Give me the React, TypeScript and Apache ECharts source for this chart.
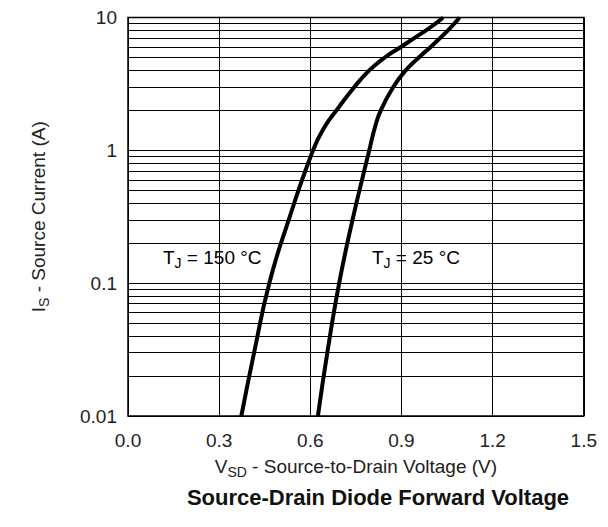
import React, { useEffect, useRef } from "react";
import * as echarts from "echarts";

const xTicks = [0, 0.3, 0.6, 0.9, 1.2, 1.5];
const yTickLabels = ["0.01", "0.1", "1", "10"];

// TJ = 150 °C curve: [VSD (V), IS (A)]
const curve150: [number, number][] = [
  [0.373, 0.01],
  [0.415, 0.03],
  [0.465, 0.1],
  [0.529, 0.3],
  [0.609, 1],
  [0.647, 1.5],
  [0.686, 2],
  [0.745, 3],
  [0.794, 4],
  [0.845, 5],
  [0.898, 6],
  [0.942, 7],
  [0.981, 8],
  [1.012, 9],
  [1.037, 10],
];

// TJ = 25 °C curve
const curve25: [number, number][] = [
  [0.625, 0.01],
  [0.656, 0.03],
  [0.695, 0.1],
  [0.739, 0.3],
  [0.794, 1],
  [0.813, 1.5],
  [0.832, 2],
  [0.873, 3],
  [0.914, 4],
  [0.957, 5],
  [0.996, 6],
  [1.027, 7],
  [1.053, 8],
  [1.074, 9],
  [1.091, 10],
];

// minor horizontal grid lines (log scale 2..9 per decade)
const minorGrid = [
  0.02, 0.03, 0.04, 0.05, 0.06, 0.07, 0.08, 0.09,
  0.2, 0.3, 0.4, 0.5, 0.6, 0.7, 0.8, 0.9,
  2, 3, 4, 5, 6, 7, 8, 9,
];

const FONT = "'Liberation Sans', Arial, Helvetica, sans-serif";
const TXT = "#222";

export default function App() {
  const ref = useRef<HTMLDivElement>(null);
  useEffect(() => {
    if (!ref.current) return;
    const chart = echarts.init(ref.current, undefined, { renderer: "svg" });
    const subRich = {
      n: { fontSize: 19, fontFamily: FONT, color: TXT },
      s: { fontSize: 14, fontFamily: FONT, color: TXT, padding: [11, 0, 0, 0] },
    };
    chart.setOption({
      animation: false,
      backgroundColor: "#fff",
      grid: {
        left: 120,
        right: 9,
        top: 4,
        bottom: 103,
        show: true,
        borderColor: "#000",
        borderWidth: 1.5,
        containLabel: false,
      },
      title: {
        text: "Source-Drain Diode Forward Voltage",
        left: 365,
        top: 473,
        textAlign: "center",
        textStyle: { fontFamily: FONT, fontSize: 22, fontWeight: "bold", color: "#111" },
      },
      xAxis: {
        type: "value",
        min: 0,
        max: 1.5,
        interval: 0.3,
        axisLine: { show: false },
        axisTick: { show: false },
        axisLabel: {
          margin: 15,
          fontFamily: FONT,
          fontSize: 19,
          color: TXT,
          formatter: (v: number) => {
            const t = xTicks.find((x) => Math.abs(x - v) < 1e-6);
            return t === undefined ? "" : t.toFixed(1);
          },
        },
        splitLine: { show: true, lineStyle: { color: "#000", width: 1 } },
        name: "{n|V}{s|SD}{n| - Source-to-Drain Voltage (V)}",
        nameLocation: "middle",
        nameGap: 38,
        nameTextStyle: { rich: subRich },
      },
      yAxis: {
        type: "log",
        logBase: 10,
        min: 0.01,
        max: 10,
        axisLine: { show: false },
        axisTick: { show: false },
        axisLabel: {
          margin: 11,
          fontFamily: FONT,
          fontSize: 19,
          color: TXT,
          formatter: (v: number) => {
            const i = Math.round(Math.log10(v)) + 2;
            return yTickLabels[i] ?? "";
          },
        },
        splitLine: { show: true, lineStyle: { color: "#000", width: 1 } },
        name: "{n|I}{s|S}{n| - Source Current (A)}",
        nameLocation: "middle",
        nameGap: 77,
        nameRotate: 90,
        nameTextStyle: { rich: subRich },
      },
      graphic: [
        {
          type: "text",
          left: 155,
          top: 240,
          style: {
            text: "{n|T}{s|J}{n| = 150 °C}",
            rich: subRich,
          },
        },
        {
          type: "text",
          left: 364,
          top: 240,
          style: {
            text: "{n|T}{s|J}{n| = 25 °C}",
            rich: subRich,
          },
        },
      ],
      series: [
        {
          type: "line",
          data: [],
          silent: true,
          markLine: {
            silent: true,
            symbol: "none",
            label: { show: false },
            lineStyle: { color: "#000", width: 1, type: "solid" },
            data: minorGrid.map((v) => ({ yAxis: v })),
          },
        },
        {
          name: "TJ = 150 °C",
          type: "line",
          data: curve150,
          smooth: 0.5,
          showSymbol: false,
          lineStyle: { color: "#000", width: 4 },
          z: 5,
        },
        {
          name: "TJ = 25 °C",
          type: "line",
          data: curve25,
          smooth: 0.5,
          showSymbol: false,
          lineStyle: { color: "#000", width: 4 },
          z: 5,
        },
      ],
    });
    return () => chart.dispose();
  }, []);
  return <div ref={ref} style={{ width: 592, height: 511 }} />;
}
